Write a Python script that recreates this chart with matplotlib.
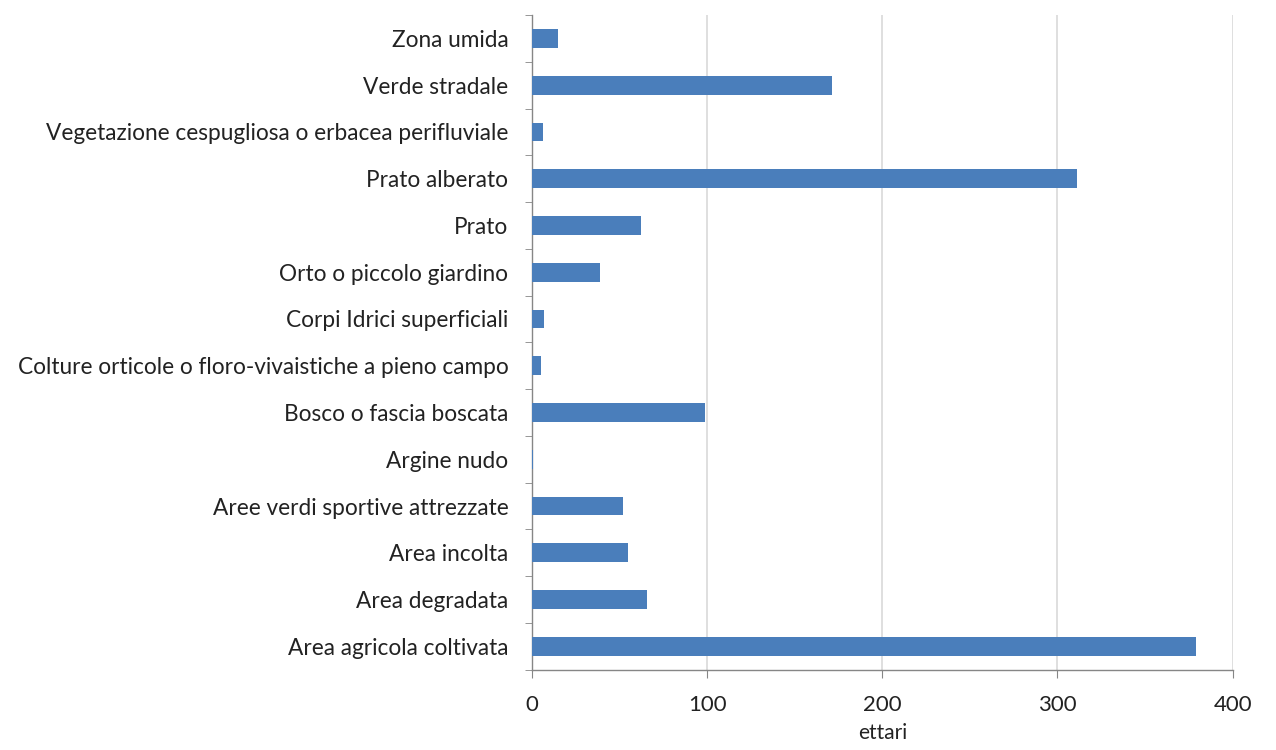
import matplotlib
matplotlib.use("Agg")
import matplotlib.pyplot as plt
import numpy as np

# categorie di uso del suolo (dal basso verso l'alto)
categorie = [
    "Area agricola coltivata",
    "Area degradata",
    "Area incolta",
    "Aree verdi sportive attrezzate",
    "Argine nudo",
    "Bosco o fascia boscata",
    "Colture orticole o floro-vivaistiche a pieno campo",
    "Corpi Idrici superficiali",
    "Orto o piccolo giardino",
    "Prato",
    "Prato alberato",
    "Vegetazione cespugliosa o erbacea perifluviale",
    "Verde stradale",
    "Zona umida",
]
ettari = [379, 65.5, 55, 52, 0.4, 99, 5, 7, 39, 62, 311, 6.5, 171, 15]
xticks = [0, 100, 200, 300, 400]

plt.rcParams["font.family"] = ["Lato", "DejaVu Sans"]

fig = plt.figure(figsize=(12.76, 7.5), dpi=100)
ax = fig.add_axes([0.417, 0.107, 0.549, 0.873])

y = np.arange(len(categorie))
ax.barh(y, ettari, height=0.4, color="#4a7ebb", zorder=3)

ax.set_xlim(0, 400)
ax.set_ylim(-0.5, len(categorie) - 0.5)
ax.set_xticks(xticks)
ax.set_yticks(y)
ax.set_yticklabels(categorie)
ax.set_yticks(np.arange(len(categorie) + 1) - 0.5, minor=True)

ax.grid(axis="x", color="#d9d9d9", linewidth=1.2, zorder=0)
ax.tick_params(axis="y", which="major", length=0, pad=17, labelsize=16.3, labelcolor="#222222")
ax.tick_params(axis="y", which="minor", length=5, color="#868686", direction="out")
ax.tick_params(axis="x", length=6, color="#868686", direction="out", labelsize=16,
               labelcolor="#222222", pad=12)

for s in ["top", "right"]:
    ax.spines[s].set_visible(False)
for s in ["left", "bottom"]:
    ax.spines[s].set_color("#868686")
    ax.spines[s].set_linewidth(1.0)

ax.set_xlabel("ettari", fontsize=15, color="#222222", labelpad=6)

fig.savefig("out.png", dpi=100)
